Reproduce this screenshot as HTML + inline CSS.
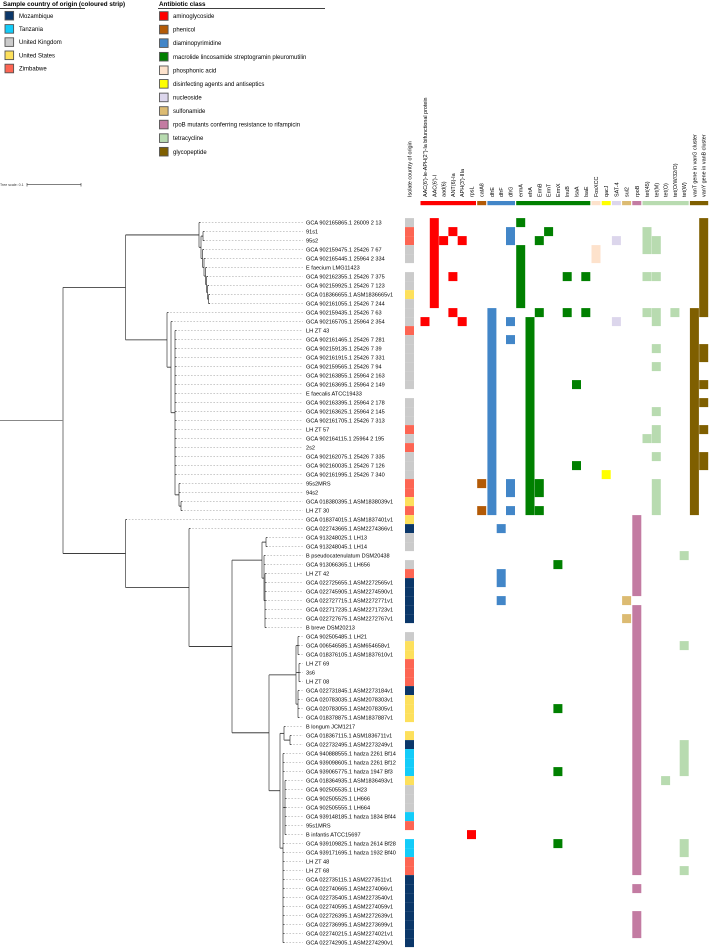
<!DOCTYPE html>
<html><head><meta charset="utf-8"><style>
html,body{margin:0;padding:0;background:#fff;}
svg{display:block;font-family:"Liberation Sans",Arial,sans-serif;}
</style></head><body>
<svg id="chart" width="709" height="949" viewBox="0 0 709 949" xmlns="http://www.w3.org/2000/svg">
<g id="legends"></g>
<g id="tree"></g>
<g id="labels"></g>
<g id="strip"></g>
<g id="heat"></g>
<g id="headers"></g>
</svg>
<script>
const rowLabels = ["GCA 902165865.1 26009 2 13","91s1","95s2","GCA 902159475.1 25426 7 67","GCA 902165445.1 25964 2 334","E faecium LMG11423","GCA 902162355.1 25426 7 375","GCA 902159925.1 25426 7 123","GCA 018366655.1 ASM1836665v1","GCA 902161055.1 25426 7 244","GCA 902159435.1 25426 7 63","GCA 902165705.1 25964 2 354","LH ZT 43","GCA 902161465.1 25426 7 281","GCA 902159135.1 25426 7 39","GCA 902161915.1 25426 7 331","GCA 902159565.1 25426 7 94","GCA 902163855.1 25964 2 163","GCA 902163695.1 25964 2 149","E faecalis ATCC19433","GCA 902163395.1 25964 2 178","GCA 902163625.1 25964 2 145","GCA 902161705.1 25426 7 313","LH ZT 57","GCA 902164115.1 25964 2 195","2s2","GCA 902162075.1 25426 7 335","GCA 902160035.1 25426 7 126","GCA 902161995.1 25426 7 340","95s2MRS","94s2","GCA 018380395.1 ASM1838039v1","LH ZT 30","GCA 018374015.1 ASM1837401v1","GCA 022743665.1 ASM2274366v1","GCA 913248025.1 LH13","GCA 913248045.1 LH14","B pseudocatenulatum DSM20438","GCA 913066365.1 LH656","LH ZT 42","GCA 022725655.1 ASM2272565v1","GCA 022745905.1 ASM2274590v1","GCA 022727715.1 ASM2272771v1","GCA 022717235.1 ASM2271723v1","GCA 022727675.1 ASM2272767v1","B breve DSM20213","GCA 902505485.1 LH21","GCA 006546585.1 ASM654658v1","GCA 018376105.1 ASM1837610v1","LH ZT 69","3s6","LH ZT 08","GCA 022731845.1 ASM2273184v1","GCA 020783035.1 ASM2078303v1","GCA 020783055.1 ASM2078305v1","GCA 018378875.1 ASM1837887v1","B longum JCM1217","GCA 018367115.1 ASM1836711v1","GCA 022732495.1 ASM2273249v1","GCA 940888555.1 hadza 2261 Bf14","GCA 939098605.1 hadza 2261 Bf12","GCA 939065775.1 hadza 1947 Bf3","GCA 018364935.1 ASM1836493v1","GCA 902505535.1 LH23","GCA 902505525.1 LH666","GCA 902505555.1 LH664","GCA 939148185.1 hadza 1834 Bf44","95s1MRS","B infantis ATCC15697","GCA 939109825.1 hadza 2614 Bf28","GCA 939171695.1 hadza 1932 Bf40","LH ZT 48","LH ZT 68","GCA 022735115.1 ASM2273511v1","GCA 022740665.1 ASM2274066v1","GCA 022735405.1 ASM2273540v1","GCA 022740595.1 ASM2274059v1","GCA 022726395.1 ASM2272639v1","GCA 022736995.1 ASM2273699v1","GCA 022740215.1 ASM2274021v1","GCA 022742905.1 ASM2274290v1"];
const rowCountry = ["U","Z","Z","U","U","","U","U","S","U","U","U","Z","U","U","U","U","U","U","","U","U","U","Z","U","Z","U","U","U","Z","Z","S","Z","S","M","U","U","","U","Z","M","M","M","M","M","","U","S","S","Z","Z","Z","M","S","S","S","","S","M","T","T","T","S","U","U","U","T","Z","","T","T","Z","Z","M","M","M","M","M","M","M","M"];
const countryNames = ["Mozambique","Tanzania","United Kingdom","United States","Zimbabwe"];
const countryCodes = ["M","T","U","S","Z"];
const countryColors = ["#0b3769","#13ccf9","#cbcbcb","#fde05c","#fd6553"];
const classNames = ["aminoglycoside","phenicol","diaminopyrimidine","macrolide lincosamide streptogramin pleuromutilin","phosphonic acid","disinfecting agents and antiseptics","nucleoside","sulfonamide","rpoB mutants conferring resistance to rifampicin","tetracycline","glycopeptide"];
const classColors = ["#ff0000","#b35a06","#4286c8","#008000","#fde2cc","#ffff00","#dcd6ec","#dcbb72","#c37ba2","#b8dbb0","#7f5f00"];
const geneNames = ["AAC(6')-Ie-APH(2'')-Ia bifunctional protein","AAC(6')-I","aad(6)","ANT(6)-Ia","APH(3')-IIIa","rpsL","catA8","dfrE","dfrF","dfrG","ermA","efrA","ErmB","ErmT","ErmX","lnuB","lsaA","lsaE","FosXCC","qacJ","SAT-4","sul2","rpoB","tet(45)","tet(M)","tet(O)","tet(O/W/32/O)","tet(W)","vanT gene in vanG cluster","vanY gene in vanB cluster"];
const geneClass = [0,0,0,0,0,0,1,2,2,2,3,3,3,3,3,3,3,3,4,5,6,7,8,9,9,9,9,9,10,10];
// presence segments per gene: [firstRow, lastRow]
const geneHits = [
 [[11,11]],
 [[0,9]],
 [[2,2]],
 [[1,1],[6,6],[10,10]],
 [[2,2],[11,11]],
 [[68,68]],
 [[29,29],[32,32]],
 [[10,32]],
 [[34,34],[39,40],[42,42]],
 [[1,2],[11,11],[13,13],[29,30],[32,32]],
 [[0,0],[3,9]],
 [[11,32]],
 [[2,2],[10,10],[29,30],[32,32]],
 [[1,1]],
 [[38,38],[54,54],[61,61],[69,69]],
 [[6,6],[10,10]],
 [[18,18],[27,27]],
 [[6,6],[10,10]],
 [[3,4]],
 [[28,28]],
 [[2,2],[11,11]],
 [[42,42],[44,44]],
 [[33,41],[43,72],[74,74],[77,79]],
 [[1,3],[6,6],[10,10],[24,24]],
 [[2,3],[6,6],[10,11],[14,14],[16,16],[21,21],[23,24],[26,26],[29,32]],
 [[62,62]],
 [[10,10]],
 [[37,37],[47,47],[58,61],[69,70],[72,72]],
 [[10,32]],
 [[0,10],[14,15],[18,18],[20,20],[23,23],[26,27]]
];
// tree internal nodes: [x position, parent node id]
const treeNodes = [[63,-1],[125.5,0],[125.5,0],[199,1],[201,3],[203,4],[202.5,4],[204,6],[205.5,7],[206.5,8],[207.5,9],[208.5,10],[167,1],[171,12],[175,13],[179,14],[181,15],[189,2],[232,17],[262,18],[266,19],[264,19],[265,21],[269,18],[296,23],[298,24],[299,24],[298,24],[280,23],[284,28],[290,29],[283,28],[285,31]];
// parent node of each leaf row
const leafParent = [3,5,5,6,7,8,9,10,11,11,12,13,14,14,14,14,14,14,14,14,14,14,14,14,14,14,14,14,14,15,15,16,16,2,17,20,20,21,21,22,22,22,22,22,22,22,25,25,25,26,26,26,27,27,27,27,29,30,30,31,31,31,32,32,32,32,32,32,32,31,31,31,31,31,31,31,31,31,31,31,31];

const NS="http://www.w3.org/2000/svg";
function mk(tag, attrs, parent){const e=document.createElementNS(NS,tag);for(const k in attrs)e.setAttribute(k,attrs[k]);parent.appendChild(e);return e;}
const ROW0=222.6, PITCH=9.0;
function rowY(i){return ROW0+PITCH*i;}
function colX(j){return 425+9.3*j+0.9*geneClass[j];}
const CELL=9, LABELX=306, TIPEND=303;

// legends
const lg=document.getElementById('legends');
let t=mk('text',{x:3,y:6,'font-size':6.3,'font-weight':'bold',fill:'#000'},lg);t.textContent='Sample country of origin (coloured strip)';

mk('line',{x1:0,y1:8.5,x2:85,y2:8.5,stroke:'#000','stroke-width':0.8},lg);
countryNames.forEach((n,i)=>{const cy=15.7+13.2*i;
 const r=mk('rect',{x:5,y:cy-4.3,width:8.6,height:8.6,fill:countryColors[i],stroke:'#555','stroke-width':0.9},lg);
 
 const tx=mk('text',{x:19,y:cy+2.1,'font-size':6,fill:'#000'},lg);tx.textContent=n;
 });
t=mk('text',{x:159,y:6,'font-size':6.3,'font-weight':'bold',fill:'#000'},lg);t.textContent='Antibiotic class';

mk('line',{x1:158,y1:8.5,x2:325,y2:8.5,stroke:'#000','stroke-width':0.8},lg);
classNames.forEach((n,i)=>{const cy=16+13.57*i;
 const r=mk('rect',{x:159.5,y:cy-4.3,width:8.6,height:8.6,fill:classColors[i],stroke:'#555','stroke-width':0.9},lg);
 
 const tx=mk('text',{x:173,y:cy+2.1,'font-size':6,fill:'#000'},lg);tx.textContent=n;
 });
t=mk('text',{x:0,y:186,'font-size':3.6,fill:'#333'},lg);t.textContent='Tree scale: 0.1';

mk('line',{x1:27,y1:184.7,x2:81,y2:184.7,stroke:'#333','stroke-width':0.6},lg);
mk('line',{x1:27,y1:183,x2:27,y2:186.5,stroke:'#333','stroke-width':0.6},lg);
mk('line',{x1:81,y1:183,x2:81,y2:186.5,stroke:'#333','stroke-width':0.6},lg);

// tree
const tr=document.getElementById('tree');
function drawNode(id){
 const x=treeNodes[id][0], ys=[];
 leafParent.forEach((p,i)=>{if(p!==id)return;const y=rowY(i);ys.push(y);
  const d=mk('line',{x1:x,y1:y,x2:TIPEND,y2:y,stroke:'#aaa','stroke-width':0.6,'stroke-dasharray':'1.6,1.6'},tr);
  
  mk('line',{x1:x,y1:y,x2:x+1.5,y2:y,stroke:'#333','stroke-width':0.8},tr);});
 treeNodes.forEach((n,k)=>{if(n[1]!==id)return;const y=drawNode(k);ys.push(y);
  const h=mk('line',{x1:x,y1:y,x2:n[0],y2:y,stroke:'#222','stroke-width':0.8},tr);
  });
 const y0=Math.min(...ys), y1=Math.max(...ys);
 const v=mk('line',{x1:x,y1:y0,x2:x,y2:y1,stroke:'#666','stroke-width':0.9},tr);
 
 return (y0+y1)/2;
}
const rootY=drawNode(0);
const rl=mk('line',{x1:0,y1:rootY,x2:63,y2:rootY,stroke:'#888','stroke-width':1},tr);


// labels
const lb=document.getElementById('labels');
rowLabels.forEach((n,i)=>{const tx=mk('text',{x:LABELX,y:rowY(i)+2,'font-size':5.6,fill:'#000'},lb);tx.textContent=n;
 });

// strip
const st=document.getElementById('strip');
rowCountry.forEach((c,i)=>{const k=countryCodes.indexOf(c);if(k<0)return;
 const r=mk('rect',{x:405,y:rowY(i)-4.5,width:9,height:9,fill:countryColors[k]},st);
 });

// heatmap
const hm=document.getElementById('heat');
geneHits.forEach((segs,j)=>{const col=classColors[geneClass[j]];
 segs.forEach(s=>{const y0=rowY(s[0])-4.5,y1=rowY(s[1])+4.5;
  const r=mk('rect',{x:colX(j)-CELL/2,y:y0,width:CELL,height:y1-y0,fill:col},hm);
  });});

// headers
const hd=document.getElementById('headers');
t=mk('text',{x:0,y:0,'font-size':5.4,fill:'#000','text-anchor':'start',transform:'translate(411.5,197) rotate(-90)'},hd);
t.textContent='Isolate country of origin';

geneNames.forEach((n,j)=>{const x=colX(j)+2;
 const tx=mk('text',{x:0,y:0,'font-size':5.4,fill:'#000','text-anchor':'start',transform:'translate('+x+',197) rotate(-90)'},hd);tx.textContent=n;
 });
classNames.forEach((n,k)=>{const idx=[];geneClass.forEach((c,j)=>{if(c===k)idx.push(j);});
 const x0=colX(idx[0])-CELL/2,x1=colX(idx[idx.length-1])+CELL/2;
 const r=mk('rect',{x:x0,y:201,width:x1-x0,height:4.2,fill:classColors[k]},hd);
 });
</script>
</body></html>
